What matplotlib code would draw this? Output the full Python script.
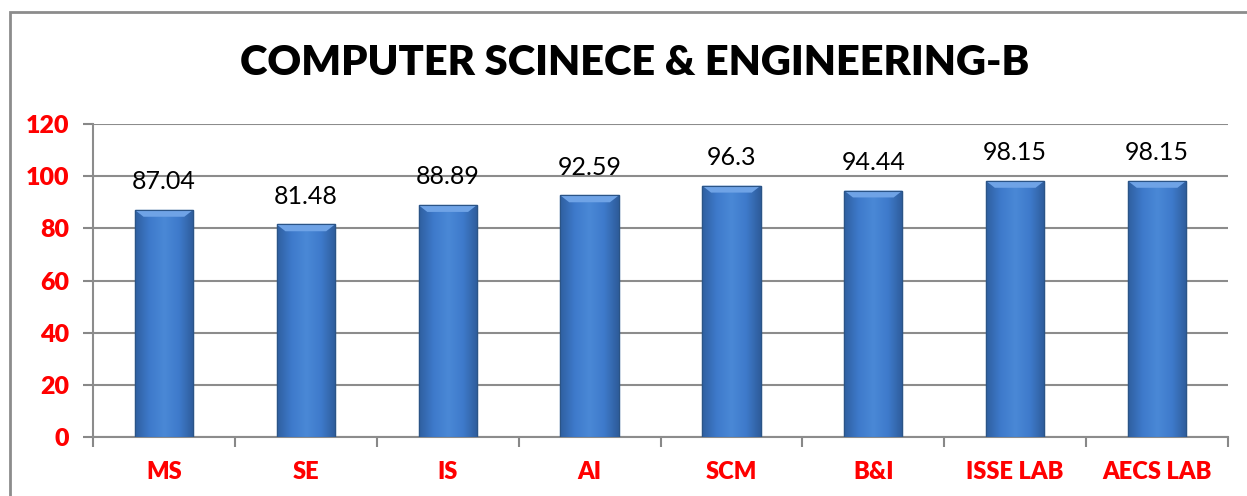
import matplotlib
matplotlib.use("Agg")
import matplotlib.pyplot as plt
import numpy as np
from matplotlib.patches import Rectangle
from matplotlib.colors import LinearSegmentedColormap

categories = ["MS", "SE", "IS", "AI", "SCM", "B&I", "ISSE LAB", "AECS LAB"]
values = [87.04, 81.48, 88.89, 92.59, 96.3, 94.44, 98.15, 98.15]
value_labels = ["87.04", "81.48", "88.89", "92.59", "96.3", "94.44", "98.15", "98.15"]
yticks = [0, 20, 40, 60, 80, 100, 120]

plt.rcParams['font.family'] = ['Lato', 'DejaVu Sans']

W, H = 1247, 496
fig = plt.figure(figsize=(W/100, H/100), dpi=100)
ax = fig.add_axes([93/W, 1-437/H, (1228-93)/W, (437-124)/H])

x = np.arange(len(categories))
bw = 0.41
bars = ax.bar(x, values, width=bw, color="#3C78C6", edgecolor="#2B5C9C",
              linewidth=1.0, zorder=3)

# gradient fill for each bar (cylinder-like shading)
cmap = LinearSegmentedColormap.from_list(
    "bar", ["#2F5F9F", "#3E7ACB", "#4A88D6", "#3E7ACB", "#2E5C9A"])
grad = np.linspace(0, 1, 256).reshape(1, -1)
for b in bars:
    x0, y0 = b.get_x(), b.get_y()
    w, h = b.get_width(), b.get_height()
    im = ax.imshow(grad, cmap=cmap, aspect="auto", extent=[x0, x0 + w, y0, y0 + h],
                   zorder=3.5, interpolation="bicubic")
    im.set_clip_path(b)
    # top bevel highlight
    bev = 2.6
    ax.fill([x0, x0 + w, x0 + w*0.85, x0 + w*0.15],
            [y0 + h, y0 + h, y0 + h - bev, y0 + h - bev],
            color="#6FA3E6", zorder=3.6, linewidth=0)
    ax.plot([x0, x0 + w, x0 + w, x0, x0], [y0, y0, y0 + h, y0 + h, y0],
            color="#2B5486", lw=0.8, zorder=3.7)

for xi, v, lab in zip(x, values, value_labels):
    ax.annotate(lab, (xi, v), xytext=(0, 12), textcoords="offset points",
                ha="center", va="bottom", fontsize=18, color="black")

ax.set_xlim(-0.5, len(categories) - 0.5)
ax.set_ylim(0, 120)
ax.set_yticks(yticks)
ax.set_yticklabels([str(t) for t in yticks], color="#FF0000", fontsize=18,
                   fontweight="heavy")
ax.set_xticks(x)
ax.set_xticklabels(categories, color="#FF0000", fontsize=17, fontweight="heavy")
ax.set_xticks(np.arange(-0.5, len(categories)), minor=True)
ax.tick_params(axis="x", which="major", length=0, pad=17)
ax.tick_params(axis="x", which="minor", length=7, width=1.5, color="#888888",
               direction="out")
ax.tick_params(axis="y", length=7, width=1.5, color="#888888", pad=10)
ax.grid(axis="y", color="#8C8C8C", linewidth=1.5, zorder=0)
ax.set_axisbelow(True)
for s in ["top", "right"]:
    ax.spines[s].set_visible(False)
for s in ["left", "bottom"]:
    ax.spines[s].set_color("#8C8C8C")
    ax.spines[s].set_linewidth(1.5)

fig.text(635/W, 1-63/H, "COMPUTER SCINECE & ENGINEERING-B", ha="center",
         va="center", fontsize=30, fontweight="heavy", color="black")

fig.patches.append(Rectangle((10/W, -0.1), 1.2, 1 - 12/H + 0.1,
                             transform=fig.transFigure, fill=False,
                             edgecolor="#8C8C8C", linewidth=2))

fig.savefig("out.png", dpi=100, facecolor="white")
